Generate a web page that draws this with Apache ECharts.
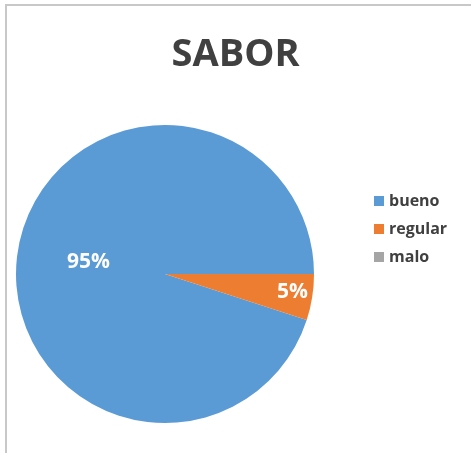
<!DOCTYPE html>
<html style="height: 100%">
<head>
    <meta charset="utf-8">
    <title>SABOR</title>
    <script src="https://cdn.jsdelivr.net/npm/echarts@6/dist/echarts.min.js"></script>
</head>
<body style="height: 100%; margin: 0; background: #fff">
    <div id="frame" style="position: absolute; left: 5px; top: 4px; right: 0; bottom: 0; border-top: 2px solid #c8c8c8; border-left: 2px solid #c8c8c8;"></div>
    <div id="main" style="position: absolute; left: 0; top: 0; width: 471px; height: 453px"></div>
    <script>
        // datos
        var categorias = ['bueno', 'regular', 'malo'];
        var valores = [95, 5, 0];
        var colores = ['#5b9bd5', '#ed7d31', '#a5a5a5'];

        var myChart = echarts.init(document.getElementById('main'));

        var datos = categorias.map(function (c, i) {
            var item = { name: c, value: valores[i], itemStyle: { color: colores[i] } };
            if (c === 'regular') {
                item.label = { offset: [51, 6] };
            }
            if (valores[i] === 0) {
                item.label = { show: false };
            }
            return item;
        });

        myChart.setOption({
            title: {
                text: 'SABOR',
                left: 'center',
                top: 31,
                textStyle: {
                    fontFamily: 'Open Sans',
                    fontSize: 38,
                    fontWeight: 'bold',
                    color: '#404040'
                }
            },
            legend: {
                orient: 'vertical',
                left: 369,
                top: 188,
                itemWidth: 10,
                itemHeight: 10,
                itemGap: 12,
                icon: 'rect',
                data: categorias,
                textStyle: {
                    fontFamily: 'Open Sans',
                    fontSize: 16,
                    fontWeight: 'bold',
                    color: '#404040'
                }
            },
            series: [{
                name: 'SABOR',
                type: 'pie',
                center: [165, 274],
                radius: 149,
                startAngle: -18,
                clockwise: true,
                silent: true,
                label: {
                    show: true,
                    position: 'inside',
                    formatter: '{d}%',
                    color: '#fff',
                    fontFamily: 'Open Sans',
                    fontSize: 21,
                    fontWeight: 'bold'
                },
                labelLine: { show: false },
                itemStyle: { borderWidth: 0 },
                data: datos
            }]
        });
    </script>
</body>
</html>
